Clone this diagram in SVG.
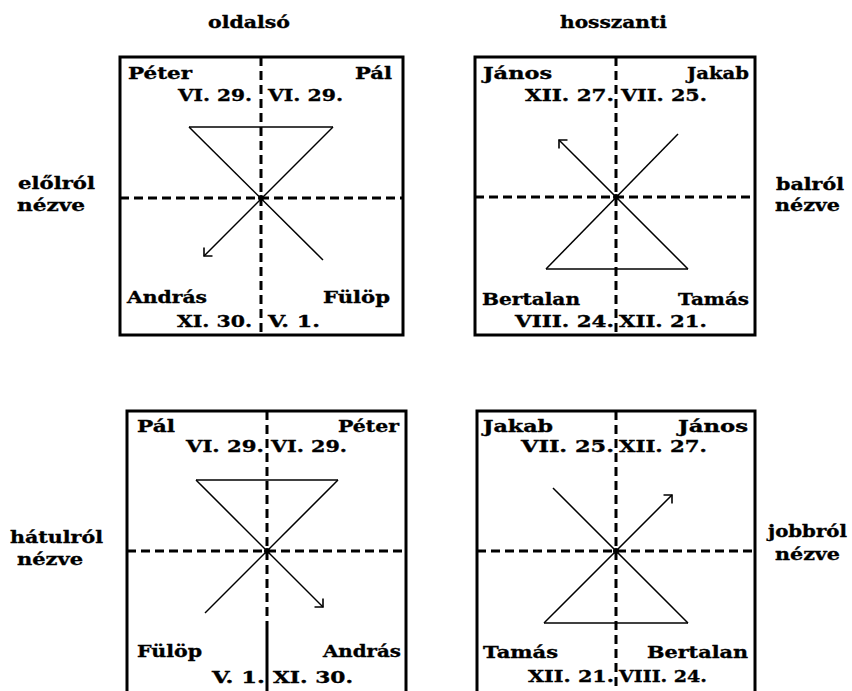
<svg xmlns="http://www.w3.org/2000/svg" width="852" height="691" viewBox="0 0 852 691">
<style>
text{font-family:"DejaVu Serif","Liberation Serif",serif;font-weight:bold;font-size:17px;fill:#000;stroke:#000;stroke-width:0.35}
.box{fill:none;stroke:#000;stroke-width:3}
.axis{stroke:#000;stroke-width:3;stroke-dasharray:9 5;fill:none}
.solid{stroke:#000;stroke-width:3;fill:none}
.fig{stroke:#000;stroke-width:1.5;fill:none}
.arr{stroke:#000;stroke-width:1.5;fill:none;marker-end:url(#vee)}
</style>
<defs>
<marker id="vee" markerUnits="userSpaceOnUse" markerWidth="20" markerHeight="20" refX="10" refY="10" orient="auto" viewBox="0 0 20 20">
<path d="M4,4 L10,10 L4,16" fill="none" stroke="#000" stroke-width="1.6"/>
</marker>
</defs>
<rect width="852" height="691" fill="#fff"/>
<g id="headers">
<text x="208" y="28" textLength="82" lengthAdjust="spacingAndGlyphs">oldalsó</text>
<text x="560" y="28" textLength="107" lengthAdjust="spacingAndGlyphs">hosszanti</text>
</g>
<g id="side-labels">
<text x="18" y="189" textLength="77" lengthAdjust="spacingAndGlyphs">előlról</text>
<text x="17" y="211" textLength="68" lengthAdjust="spacingAndGlyphs">nézve</text>
<text x="776" y="190" textLength="68" lengthAdjust="spacingAndGlyphs">balról</text>
<text x="775" y="211" textLength="65" lengthAdjust="spacingAndGlyphs">nézve</text>
<text x="10" y="543" textLength="93" lengthAdjust="spacingAndGlyphs">hátulról</text>
<text x="17" y="565" textLength="66" lengthAdjust="spacingAndGlyphs">nézve</text>
<text x="768" y="537" textLength="79" lengthAdjust="spacingAndGlyphs">jobbról</text>
<text x="775" y="560" textLength="65" lengthAdjust="spacingAndGlyphs">nézve</text>
</g>
<g id="panel-front">
<rect class="box" x="120" y="57" width="283" height="278"/>
<line class="axis" x1="261" y1="57" x2="261" y2="335"/>
<line class="axis" x1="120" y1="198" x2="403" y2="198"/>
<line class="fig" x1="189" y1="127" x2="333" y2="127"/>
<line class="fig" x1="189" y1="127" x2="323" y2="260"/>
<line class="arr" x1="333" y1="127" x2="204" y2="256"/>
<circle cx="261" cy="198" r="3"/>
<text x="128" y="79" textLength="64" lengthAdjust="spacingAndGlyphs">Péter</text>
<text x="355" y="79" textLength="37" lengthAdjust="spacingAndGlyphs">Pál</text>
<text x="178" y="101" textLength="74" lengthAdjust="spacingAndGlyphs">VI. 29.</text>
<text x="268" y="101" textLength="75" lengthAdjust="spacingAndGlyphs">VI. 29.</text>
<text x="127" y="303" textLength="80" lengthAdjust="spacingAndGlyphs">András</text>
<text x="323" y="303" textLength="67" lengthAdjust="spacingAndGlyphs">Fülöp</text>
<text x="177" y="327" textLength="75" lengthAdjust="spacingAndGlyphs">XI. 30.</text>
<text x="268" y="327" textLength="52" lengthAdjust="spacingAndGlyphs">V. 1.</text>
</g>
<g id="panel-left">
<rect class="box" x="475" y="57" width="280" height="278"/>
<line class="axis" x1="616" y1="57" x2="616" y2="335"/>
<line class="axis" x1="475" y1="197" x2="755" y2="197"/>
<line class="fig" x1="546" y1="269" x2="688" y2="269"/>
<line class="fig" x1="546" y1="269" x2="678" y2="134"/>
<line class="arr" x1="688" y1="269" x2="559" y2="140"/>
<circle cx="616" cy="197" r="3"/>
<text x="483" y="79" textLength="69" lengthAdjust="spacingAndGlyphs">János</text>
<text x="687" y="79" textLength="62" lengthAdjust="spacingAndGlyphs">Jakab</text>
<text x="525" y="101" textLength="89" lengthAdjust="spacingAndGlyphs">XII. 27.</text>
<text x="621" y="101" textLength="86" lengthAdjust="spacingAndGlyphs">VII. 25.</text>
<text x="482" y="305" textLength="98" lengthAdjust="spacingAndGlyphs">Bertalan</text>
<text x="678" y="305" textLength="71" lengthAdjust="spacingAndGlyphs">Tamás</text>
<text x="515" y="327" textLength="99" lengthAdjust="spacingAndGlyphs">VIII. 24.</text>
<text x="619" y="327" textLength="88" lengthAdjust="spacingAndGlyphs">XII. 21.</text>
</g>
<g id="panel-back">
<rect class="box" x="127" y="411" width="279" height="285"/>
<line class="axis" x1="267" y1="411" x2="267" y2="625"/>
<line class="solid" x1="267" y1="625" x2="267" y2="691"/>
<line class="axis" x1="127" y1="551" x2="406" y2="551"/>
<line class="fig" x1="196" y1="480" x2="338" y2="480"/>
<line class="arr" x1="196" y1="480" x2="323" y2="607"/>
<line class="fig" x1="338" y1="480" x2="205" y2="613"/>
<circle cx="267" cy="551" r="3"/>
<text x="137" y="432" textLength="38" lengthAdjust="spacingAndGlyphs">Pál</text>
<text x="338" y="432" textLength="61" lengthAdjust="spacingAndGlyphs">Péter</text>
<text x="186" y="452" textLength="78" lengthAdjust="spacingAndGlyphs">VI. 29.</text>
<text x="271" y="452" textLength="76" lengthAdjust="spacingAndGlyphs">VI. 29.</text>
<text x="137" y="657" textLength="65" lengthAdjust="spacingAndGlyphs">Fülöp</text>
<text x="323" y="657" textLength="78" lengthAdjust="spacingAndGlyphs">András</text>
<text x="212" y="683" textLength="53" lengthAdjust="spacingAndGlyphs">V. 1.</text>
<text x="273" y="683" textLength="80" lengthAdjust="spacingAndGlyphs">XI. 30.</text>
</g>
<g id="panel-right">
<rect class="box" x="477" y="411" width="278" height="285"/>
<line class="axis" x1="616" y1="411" x2="616" y2="691"/>
<line class="axis" x1="477" y1="551" x2="755" y2="551"/>
<line class="fig" x1="544" y1="623" x2="688" y2="623"/>
<line class="fig" x1="688" y1="623" x2="553" y2="488"/>
<line class="arr" x1="544" y1="623" x2="672" y2="495"/>
<circle cx="616" cy="551" r="3"/>
<text x="483" y="432" textLength="70" lengthAdjust="spacingAndGlyphs">Jakab</text>
<text x="678" y="432" textLength="70" lengthAdjust="spacingAndGlyphs">János</text>
<text x="521" y="452" textLength="93" lengthAdjust="spacingAndGlyphs">VII. 25.</text>
<text x="619" y="452" textLength="88" lengthAdjust="spacingAndGlyphs">XII. 27.</text>
<text x="483" y="658" textLength="75" lengthAdjust="spacingAndGlyphs">Tamás</text>
<text x="647" y="658" textLength="101" lengthAdjust="spacingAndGlyphs">Bertalan</text>
<text x="528" y="682" textLength="86" lengthAdjust="spacingAndGlyphs">XII. 21.</text>
<text x="619" y="682" textLength="88" lengthAdjust="spacingAndGlyphs">VIII. 24.</text>
</g>
</svg>
